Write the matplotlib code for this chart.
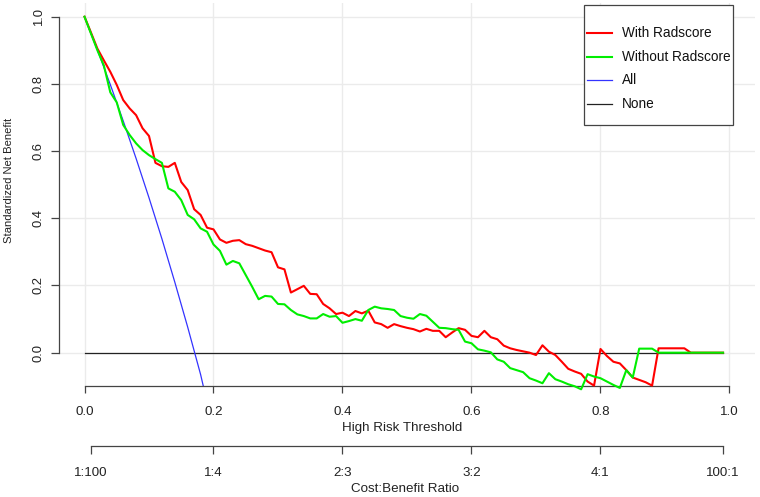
import matplotlib
matplotlib.use('Agg')
import matplotlib.pyplot as plt
import numpy as np
from matplotlib.patches import Rectangle

plt.rcParams['font.family'] = ['Liberation Sans', 'DejaVu Sans']

# ---------------- data ----------------
thresholds = np.round(np.arange(0, 100) * 0.01, 2)  # 0.00 ... 0.99

with_radscore = [
    1.000, 0.953, 0.905, 0.870, 0.836, 0.797, 0.752, 0.727, 0.707, 0.668,
    0.645, 0.565, 0.555, 0.553, 0.565, 0.508, 0.484, 0.427, 0.410, 0.372,
    0.367, 0.337, 0.327, 0.333, 0.335, 0.323, 0.318, 0.311, 0.304, 0.299,
    0.254, 0.248, 0.179, 0.189, 0.199, 0.175, 0.174, 0.145, 0.132, 0.115,
    0.119, 0.109, 0.124, 0.117, 0.125, 0.090, 0.085, 0.074, 0.085, 0.079,
    0.074, 0.070, 0.063, 0.071, 0.065, 0.065, 0.046, 0.060, 0.073, 0.068,
    0.050, 0.046, 0.065, 0.046, 0.040, 0.021, 0.013, 0.008, 0.004, 0.000,
    -0.007, 0.022, 0.003, -0.007, -0.027, -0.048, -0.056, -0.063, -0.086, -0.098,
    0.011, -0.010, -0.027, -0.032, -0.052, -0.074, -0.081, -0.088, -0.098, 0.013,
    0.013, 0.013, 0.013, 0.013, 0.000, 0.000, 0.000, 0.000, 0.000, 0.000,
]

without_radscore = [
    1.000, 0.950, 0.900, 0.855, 0.775, 0.745, 0.678, 0.648, 0.623, 0.603,
    0.588, 0.576, 0.565, 0.489, 0.479, 0.454, 0.410, 0.397, 0.370, 0.360,
    0.322, 0.303, 0.262, 0.273, 0.266, 0.231, 0.196, 0.159, 0.169, 0.167,
    0.145, 0.144, 0.127, 0.114, 0.109, 0.102, 0.102, 0.115, 0.107, 0.109,
    0.089, 0.094, 0.100, 0.095, 0.127, 0.137, 0.132, 0.130, 0.127, 0.109,
    0.104, 0.101, 0.115, 0.110, 0.092, 0.074, 0.073, 0.070, 0.068, 0.033,
    0.028, 0.010, 0.006, 0.001, -0.020, -0.027, -0.046, -0.052, -0.058, -0.076,
    -0.083, -0.091, -0.061, -0.079, -0.086, -0.094, -0.100, -0.109, -0.064, -0.071,
    -0.076, -0.086, -0.096, -0.105, -0.052, -0.074, 0.012, 0.012, 0.012, 0.000,
    0.000, 0.000, 0.000, 0.000, 0.000, 0.000, 0.000, 0.000, 0.000, 0.000,
]

all_thresholds = [0.00, 0.02, 0.04, 0.06, 0.08, 0.10, 0.12, 0.14, 0.16, 0.18, 0.184]
all_nb = [1.000, 0.901, 0.798, 0.690, 0.578, 0.461, 0.339, 0.210, 0.076, -0.065, -0.098]

none_thresholds = [0.00, 0.99]
none_nb = [0.0, 0.0]

x_ticks = [0.0, 0.2, 0.4, 0.6, 0.8, 1.0]
x_labels = ['0.0', '0.2', '0.4', '0.6', '0.8', '1.0']
y_ticks = [0.0, 0.2, 0.4, 0.6, 0.8, 1.0]
y_labels = ['0.0', '0.2', '0.4', '0.6', '0.8', '1.0']
cb_ticks = [1 / 101, 0.2, 0.4, 0.6, 0.8, 100 / 101]
cb_labels = ['1:100', '1:4', '2:3', '3:2', '4:1', '100:1']

series_names = ['With Radscore', 'Without Radscore', 'All', 'None']
series_colors = ['#FF0000', '#00EE00', '#3333FF', '#222222']

# ---------------- figure ----------------
W, H = 760, 497
fig = plt.figure(figsize=(W / 100, H / 100), dpi=100)

def fb(left, top, right, bottom):
    return [left / W, 1 - bottom / H, (right - left) / W, (bottom - top) / H]

axis_col = '#444444'
ax = fig.add_axes(fb(58.7, 2.6, 755.3, 385.6))
ax.set_xlim(-0.04, 1.04)
ax.set_ylim(-0.098, 1.042)
for s in ['top', 'right']:
    ax.spines[s].set_visible(False)
ax.spines['left'].set_bounds(0, 1)
ax.spines['bottom'].set_bounds(0, 1)
for s in ['left', 'bottom']:
    ax.spines[s].set_color(axis_col)
    ax.spines[s].set_linewidth(0.9)
ax.set_xticks(x_ticks)
ax.set_xticklabels(x_labels)
ax.set_yticks(y_ticks)
ax.set_yticklabels(y_labels, rotation=90, va='center')
ax.tick_params(axis='x', direction='out', length=5.2, width=0.9, color=axis_col,
               pad=9.5, labelsize=9.6, labelcolor='#222222')
ax.tick_params(axis='y', direction='out', length=6, width=0.9, color=axis_col,
               pad=4, labelsize=9.4, labelcolor='#222222')
ax.grid(True, color='#EBEBEB', linewidth=1.0, zorder=0)
ax.set_axisbelow(True)

ax.plot(none_thresholds, none_nb, color=series_colors[3], lw=0.9, zorder=2)
ax.plot(all_thresholds, all_nb, color=series_colors[2], lw=0.9, zorder=2)
ax.plot(thresholds, with_radscore, color=series_colors[0], lw=1.5, zorder=3, clip_on=False)
ax.plot(thresholds, without_radscore, color=series_colors[1], lw=1.5, zorder=4, clip_on=False)

# Cost:Benefit axis
ax2 = fig.add_axes(fb(58.7, 445.5, 755.3, 446.0))
ax2.set_xlim(-0.04, 1.04)
ax2.patch.set_visible(False)
for s in ['top', 'right', 'left']:
    ax2.spines[s].set_visible(False)
ax2.spines['bottom'].set_bounds(cb_ticks[0], cb_ticks[-1])
ax2.spines['bottom'].set_color(axis_col)
ax2.spines['bottom'].set_linewidth(0.9)
ax2.set_yticks([])
ax2.set_xticks(cb_ticks)
ax2.set_xticklabels(cb_labels)
ax2.tick_params(axis='x', direction='out', length=6, width=0.9, color=axis_col,
                pad=9, labelsize=9.6, labelcolor='#222222')

# overlay for titles and legend (pixel coordinates)
ov = fig.add_axes([0, 0, 1, 1], zorder=10)
ov.set_xlim(0, W)
ov.set_ylim(H, 0)
ov.axis('off')
ov.patch.set_visible(False)

ov.text(402, 428, 'High Risk Threshold', ha='center', va='center', fontsize=9.6, color='#222222')
ov.text(405, 489, 'Cost:Benefit Ratio', ha='center', va='center', fontsize=9.6, color='#222222')
ov.text(9, 180, 'Standardized Net Benefit', ha='center', va='center', rotation=90,
        fontsize=8.1, color='#222222')

ov.add_patch(Rectangle((584, 5), 149, 120, facecolor='white', edgecolor='#444444', lw=0.9))
leg_y = [33, 57, 80, 104]
leg_lw = [1.5, 1.5, 0.9, 0.9]
for name, col, yy, lw in zip(series_names, series_colors, leg_y, leg_lw):
    ov.plot([587, 612], [yy, yy], color=col, lw=lw)
    ov.text(622, yy, name, ha='left', va='center', fontsize=9.8, color='#111111')

fig.savefig('out.png', dpi=100)
